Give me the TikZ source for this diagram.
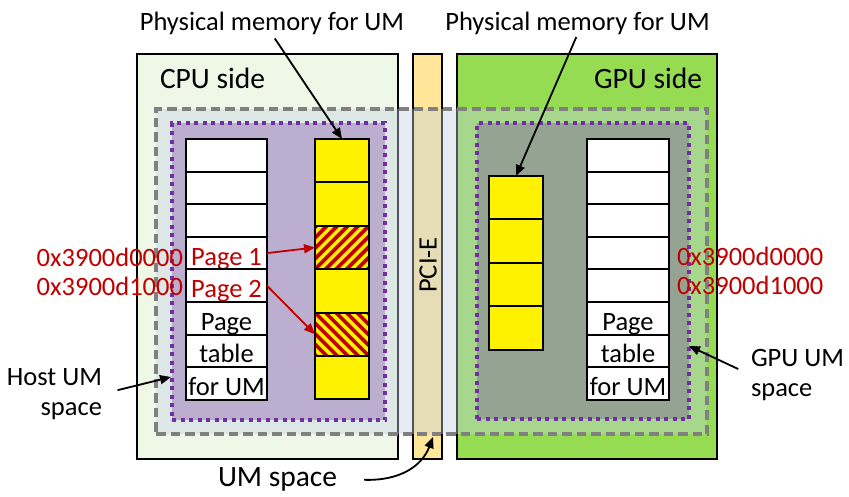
\documentclass[tikz,border=0pt]{standalone}
\usepackage{fontspec}
\setmainfont{Carlito}
\usetikzlibrary{arrows.meta,calc}
\definecolor{cpufill}{HTML}{EFF7E7}
\definecolor{pcifill}{HTML}{FFE699}
\definecolor{gpufill}{HTML}{96DC52}
\definecolor{umfill}{HTML}{C2D0E3}
\definecolor{umpurple}{HTML}{7030A0}
\definecolor{addrred}{HTML}{C00000}
\definecolor{umgray}{HTML}{808080}
\begin{document}
\begin{tikzpicture}[x=1pt,y=-1pt,
  every node/.style={inner sep=0pt, outer sep=0pt, font=\fontsize{26.5}{29.5}\selectfont},
  biglabel/.style={font=\fontsize{29.5}{33}\selectfont},
  region/.style={draw=black, line width=2pt, anchor=north west},
  umspace/.style={draw=umgray, line width=3.2pt, dash pattern=on 9.5pt off 5pt,
     fill=umfill, fill opacity=0.4, anchor=north west},
  localspace/.style={draw=umpurple, line width=4pt, dash pattern=on 4pt off 4.5pt,
     fill=umpurple, fill opacity=0.31, anchor=north west},
  tcell/.style={draw=black, line width=2pt, fill=white, minimum height=32.6pt,
     anchor=north west, text height=24pt, text depth=0pt},
  ycell/.style={draw=black, line width=2pt, fill=yellow, minimum width=54pt,
     minimum height=43.4pt, anchor=north west},
  arr/.style={-{Triangle[length=11pt,width=9pt]}, line width=1.8pt},
  redarr/.style={arr, draw=addrred},
  hatch/.style={draw=addrred, line width=3.6pt},
  addr/.style={text=addrred}
]
\useasboundingbox (0,0) rectangle (849,496);

% main regions
\node[region, fill=cpufill, minimum width=261pt, minimum height=405pt] (cpu) at (137,54) {};
\node[region, fill=pcifill, minimum width=29pt, minimum height=405pt] (pcie) at (413,54) {};
\node[region, fill=gpufill, minimum width=260pt, minimum height=405pt] (gpu) at (457,54) {};

% UM space
\node[umspace, minimum width=551pt, minimum height=325pt] (um) at (156,109) {};

% host / GPU UM spaces
\node[localspace, minimum width=213pt, minimum height=297pt] (pcpu) at (172,123) {};
\node[localspace, minimum width=212pt, minimum height=296pt] (pgpu) at (477,123) {};

% CPU page table
\node[tcell, minimum width=81pt] (ct1) at (186,139) {};
\node[tcell, minimum width=81pt] (ct2) at (ct1.south west) {};
\node[tcell, minimum width=81pt] (ct3) at (ct2.south west) {};
\node[tcell, minimum width=81pt, text=addrred] (ct4) at (ct3.south west) {Page 1};
\node[tcell, minimum width=81pt, text=addrred] (ct5) at (ct4.south west) {Page 2};
\node[tcell, minimum width=81pt] (ct6) at (ct5.south west) {Page};
\node[tcell, minimum width=81pt] (ct7) at (ct6.south west) {table};
\node[tcell, minimum width=81pt] (ct8) at (ct7.south west) {for UM};

% GPU page table
\node[tcell, minimum width=82pt] (gt1) at (587,139) {};
\node[tcell, minimum width=82pt] (gt2) at (gt1.south west) {};
\node[tcell, minimum width=82pt] (gt3) at (gt2.south west) {};
\node[tcell, minimum width=82pt] (gt4) at (gt3.south west) {};
\node[tcell, minimum width=82pt] (gt5) at (gt4.south west) {};
\node[tcell, minimum width=82pt] (gt6) at (gt5.south west) {Page};
\node[tcell, minimum width=82pt] (gt7) at (gt6.south west) {table};
\node[tcell, minimum width=82pt] (gt8) at (gt7.south west) {for UM};

% CPU physical memory
\node[ycell] (cy1) at (315,139) {};
\node[ycell] (cy2) at (cy1.south west) {};
\node[ycell] (cy3) at (cy2.south west) {};
\node[ycell] (cy4) at (cy3.south west) {};
\node[ycell] (cy5) at (cy4.south west) {};
\node[ycell] (cy6) at (cy5.south west) {};

\begin{scope}
  \clip (cy3.north west) rectangle (cy3.south east);
  \foreach \i in {-6,...,8} \draw[hatch] ($(cy3.south west)+(\i*10.5,0)$) -- ++(60,-60);
\end{scope}
\draw[line width=2pt] (cy3.north west) rectangle (cy3.south east);
\begin{scope}
  \clip (cy5.north west) rectangle (cy5.south east);
  \foreach \i in {-6,...,8} \draw[hatch] ($(cy5.north west)+(\i*10.5,0)$) -- ++(60,60);
\end{scope}
\draw[line width=2pt] (cy5.north west) rectangle (cy5.south east);

% GPU physical memory
\node[ycell] (gy1) at (489,176) {};
\node[ycell] (gy2) at (gy1.south west) {};
\node[ycell] (gy3) at (gy2.south west) {};
\node[ycell] (gy4) at (gy3.south west) {};

% labels
\node[biglabel, anchor=base west] (cpulabel) at (160,88) {CPU side};
\node[biglabel, anchor=base east] (gpulabel) at (702,88) {GPU side};
\node[rotate=90] (pcilabel) at (428,265) {PCI-E};
\node[anchor=base] (pm1) at (272,30) {Physical memory for UM};
\node[anchor=base] (pm2) at (577.5,30) {Physical memory for UM};
\node[addr, anchor=base east] (ca1) at (183,266) {0x3900d0000};
\node[addr, anchor=base east] (ca2) at (183,295) {0x3900d1000};
\node[addr, anchor=base west] (ga1) at (677,265) {0x3900d0000};
\node[addr, anchor=base west] (ga2) at (677,294) {0x3900d1000};
\node[align=right, anchor=east] (host) at (102,394) {Host UM\\space};
\node[align=left, anchor=west] (gpuum) at (751,375) {GPU UM\\space};
\node[biglabel, anchor=base west] (umlabel) at (218,486) {UM space};

% connectors
\coordinate (hostend) at (171,377);
\coordinate (gpuend) at (689,346);
\coordinate (umend) at (433,437);
\draw[arr, shorten <=5pt] (pm1.south) -- (cy1.north);
\draw[arr, shorten <=3pt] (pm2.south) -- (gy1.north);
\draw[redarr] (ct4.east) -- (cy3.west);
\draw[redarr] (ct5.east) -- (cy5.west);
\draw[arr, shorten <=16pt] (host.east) -- (hostend);
\draw[arr, shorten <=14pt] (gpuum.west) -- (gpuend);
\draw[arr, shorten <=27pt] (umlabel.east) .. controls (400,481) and (422,466) .. (umend);
\end{tikzpicture}
\end{document}
